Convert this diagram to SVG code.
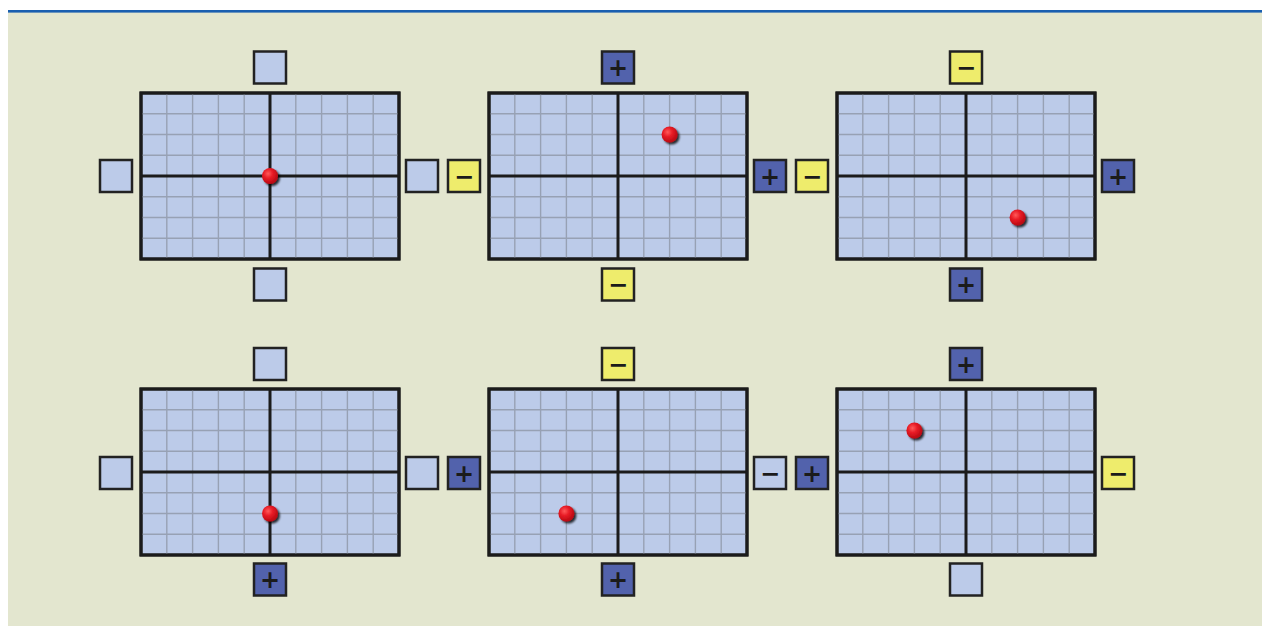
<svg xmlns="http://www.w3.org/2000/svg" xmlns:xlink="http://www.w3.org/1999/xlink" width="1262" height="626" viewBox="0 0 1262 626">
<style>
.bg{fill:#e3e6cf}
.topline{fill:#1a5fb0}
.grid{stroke:#97a1b4;stroke-width:1.4}
.axis{stroke:#1b1b1b;stroke-width:3}
.frame{fill:#bccbe9;stroke:#1b1b1b;stroke-width:3}
.box{stroke:#222;stroke-width:2.5}
.light{fill:#bccbe9}
.dark{fill:#5262ac}
.yel{fill:#eeec6c}
.sign{font-family:'DejaVu Sans',sans-serif;font-size:24px;font-weight:bold;fill:#1b1b1b;text-anchor:middle}
</style>
<defs>
<radialGradient id="dotg" cx="38%" cy="35%" r="65%">
<stop offset="0" stop-color="#ff5a5a"/>
<stop offset="0.45" stop-color="#e81c26"/>
<stop offset="1" stop-color="#b80812"/>
</radialGradient>
<filter id="sh" x="-50%" y="-50%" width="200%" height="200%">
<feGaussianBlur in="SourceAlpha" stdDeviation="1.3"/>
<feOffset dx="2" dy="2" result="b"/>
<feComponentTransfer><feFuncA type="linear" slope="0.8"/></feComponentTransfer>
<feMerge><feMergeNode/><feMergeNode in="SourceGraphic"/></feMerge>
</filter>
<g id="grid">
<rect class="frame" x="0" y="0" width="258" height="166"/>
<g class="grid">
<line x1="25.8" y1="0" x2="25.8" y2="166"/>
<line x1="51.6" y1="0" x2="51.6" y2="166"/>
<line x1="77.4" y1="0" x2="77.4" y2="166"/>
<line x1="103.2" y1="0" x2="103.2" y2="166"/>
<line x1="154.8" y1="0" x2="154.8" y2="166"/>
<line x1="180.6" y1="0" x2="180.6" y2="166"/>
<line x1="206.4" y1="0" x2="206.4" y2="166"/>
<line x1="232.2" y1="0" x2="232.2" y2="166"/>
<line x1="0" y1="20.75" x2="258" y2="20.75"/>
<line x1="0" y1="41.5" x2="258" y2="41.5"/>
<line x1="0" y1="62.25" x2="258" y2="62.25"/>
<line x1="0" y1="103.75" x2="258" y2="103.75"/>
<line x1="0" y1="124.5" x2="258" y2="124.5"/>
<line x1="0" y1="145.25" x2="258" y2="145.25"/>
</g>
<line class="axis" x1="129" y1="0" x2="129" y2="166"/>
<line class="axis" x1="0" y1="83" x2="258" y2="83"/>
<rect x="0" y="0" width="258" height="166" fill="none" stroke="#1b1b1b" stroke-width="3"/>
</g>
</defs>
<rect class="bg" x="8" y="12" width="1254" height="614"/>
<rect class="topline" x="8" y="10" width="1254" height="2.6"/>

<g id="connectors"></g>

<!-- Top row -->
<g id="panel1">
<use xlink:href="#grid" transform="translate(141,93)"/>
<circle cx="270" cy="176" r="8" fill="url(#dotg)" filter="url(#sh)"/>
</g>
<g id="p1-top"><rect class="box light" x="254" y="51.5" width="32" height="32"/></g>
<g id="p1-bottom"><rect class="box light" x="254" y="268.5" width="32" height="32"/></g>
<g id="p1-left"><rect class="box light" x="100" y="160" width="32" height="32"/></g>
<g id="p1-right"><rect class="box light" x="406" y="160" width="32" height="32"/></g>

<g id="panel2">
<use xlink:href="#grid" transform="translate(489,93)"/>
<circle cx="669.6" cy="134.5" r="8" fill="url(#dotg)" filter="url(#sh)"/>
</g>
<g id="p2-top"><rect class="box dark" x="602" y="51.5" width="32" height="32"/><text class="sign" x="618" y="76">+</text></g>
<g id="p2-bottom"><rect class="box yel" x="602" y="268.5" width="32" height="32"/><text class="sign" x="618" y="293">−</text></g>
<g id="p2-left"><rect class="box yel" x="448" y="160" width="32" height="32"/><text class="sign" x="464" y="184.5">−</text></g>
<g id="p2-right"><rect class="box dark" x="754" y="160" width="32" height="32"/><text class="sign" x="770" y="184.5">+</text></g>

<g id="panel3">
<use xlink:href="#grid" transform="translate(837,93)"/>
<circle cx="1017.6" cy="217.5" r="8" fill="url(#dotg)" filter="url(#sh)"/>
</g>
<g id="p3-top"><rect class="box yel" x="950" y="51.5" width="32" height="32"/><text class="sign" x="966" y="76">−</text></g>
<g id="p3-bottom"><rect class="box dark" x="950" y="268.5" width="32" height="32"/><text class="sign" x="966" y="293">+</text></g>
<g id="p3-left"><rect class="box yel" x="796" y="160" width="32" height="32"/><text class="sign" x="812" y="184.5">−</text></g>
<g id="p3-right"><rect class="box dark" x="1102" y="160" width="32" height="32"/><text class="sign" x="1118" y="184.5">+</text></g>

<!-- Bottom row -->
<g id="panel4">
<use xlink:href="#grid" transform="translate(141,389)"/>
<circle cx="270" cy="513.5" r="8" fill="url(#dotg)" filter="url(#sh)"/>
</g>
<g id="p4-top"><rect class="box light" x="254" y="348" width="32" height="32"/></g>
<g id="p4-bottom"><rect class="box dark" x="254" y="563.5" width="32" height="32"/><text class="sign" x="270" y="588">+</text></g>
<g id="p4-left"><rect class="box light" x="100" y="457" width="32" height="32"/></g>
<g id="p4-right"><rect class="box light" x="406" y="457" width="32" height="32"/></g>

<g id="panel5">
<use xlink:href="#grid" transform="translate(489,389)"/>
<circle cx="566.4" cy="513.5" r="8" fill="url(#dotg)" filter="url(#sh)"/>
</g>
<g id="p5-top"><rect class="box yel" x="602" y="348" width="32" height="32"/><text class="sign" x="618" y="372.5">−</text></g>
<g id="p5-bottom"><rect class="box dark" x="602" y="563.5" width="32" height="32"/><text class="sign" x="618" y="588">+</text></g>
<g id="p5-left"><rect class="box dark" x="448" y="457" width="32" height="32"/><text class="sign" x="464" y="481.5">+</text></g>
<g id="p5-right"><rect class="box light" x="754" y="457" width="32" height="32"/><text class="sign" x="770" y="481.5">−</text></g>

<g id="panel6">
<use xlink:href="#grid" transform="translate(837,389)"/>
<circle cx="914.4" cy="430.5" r="8" fill="url(#dotg)" filter="url(#sh)"/>
</g>
<g id="p6-top"><rect class="box dark" x="950" y="348" width="32" height="32"/><text class="sign" x="966" y="372.5">+</text></g>
<g id="p6-bottom"><rect class="box light" x="950" y="563.5" width="32" height="32"/></g>
<g id="p6-left"><rect class="box dark" x="796" y="457" width="32" height="32"/><text class="sign" x="812" y="481.5">+</text></g>
<g id="p6-right"><rect class="box yel" x="1102" y="457" width="32" height="32"/><text class="sign" x="1118" y="481.5">−</text></g>
</svg>
